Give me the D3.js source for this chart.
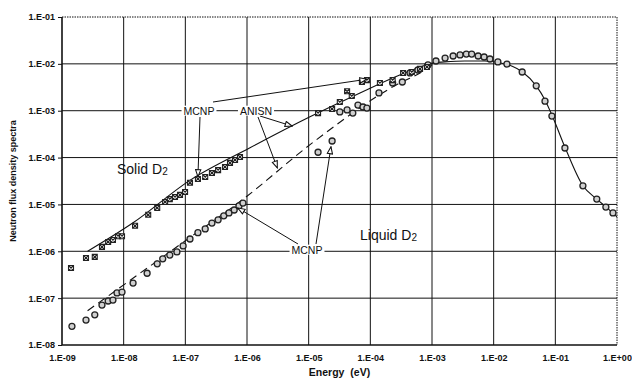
<!DOCTYPE html>
<html>
<head>
<meta charset="utf-8">
<script src="https://cdn.jsdelivr.net/npm/d3@7"></script>
<style>
  body { margin: 0; background: #fff; }
  svg { display: block; }
</style>
</head>
<body>
<script>
// ANISN, solid D2 (solid line)
var anisnSolidE = [2.6e-9, 1.4e-8, 1.2e-7, 1.1e-6, 1.05e-5, 6.8e-5, 3.0e-4, 6.4e-4, 1.05e-3, 1.6e-3, 3.4e-3, 7.2e-3, 1.26e-2, 2.0e-2, 2.9e-2, 4.9e-2, 6.8e-2, 8.8e-2, 0.145, 0.28, 0.47, 0.66, 1.0];
var anisnSolidPhi = [1.0e-6, 4.0e-6, 3.3e-5, 1.6e-4, 7.4e-4, 2.4e-3, 5.8e-3, 8.5e-3, 1.05e-2, 1.1e-2, 1.15e-2, 1.15e-2, 1.05e-2, 8.9e-3, 6.8e-3, 3.4e-3, 1.7e-3, 8.1e-4, 1.6e-4, 2.5e-5, 1.3e-5, 8.9e-6, 5.4e-6];

// ANISN, liquid D2 (dashed line)
var anisnLiquidE = [2.6e-9, 9.9e-8, 8.3e-7, 1.17e-5, 3.0e-4, 6.4e-4, 1.05e-3];
var anisnLiquidPhi = [5.4e-8, 1.66e-6, 1.24e-5, 2.1e-4, 3.9e-3, 6.4e-3, 1.0e-2];

// MCNP, solid D2
var mcnpSolidE = [1.4e-9, 2.45e-9, 3.4e-9, 4.45e-9, 5.6e-9, 6.7e-9, 8.1e-9, 9.4e-9, 1.53e-8, 2.5e-8, 3.5e-8, 4.7e-8, 5.6e-8, 6.8e-8, 8.2e-8, 9.9e-8, 1.19e-7, 1.6e-7, 2.1e-7, 2.7e-7, 3.4e-7, 4.4e-7, 5.3e-7, 6.4e-7, 7.7e-7, 1.42e-5, 2.4e-5, 3.2e-5, 4.2e-5, 5.0e-5, 7.3e-5, 8.8e-5, 1.43e-4, 2.3e-4, 3.4e-4, 4.7e-4, 6.4e-4, 8.3e-4];
var mcnpSolidPhi = [4.4e-7, 7.2e-7, 7.6e-7, 1.24e-6, 1.58e-6, 1.74e-6, 2.1e-6, 2.1e-6, 3.5e-6, 6.0e-6, 8.4e-6, 1.13e-5, 1.3e-5, 1.44e-5, 1.6e-5, 1.84e-5, 2.9e-5, 3.5e-5, 3.85e-5, 4.7e-5, 5.4e-5, 6.3e-5, 7.7e-5, 8.9e-5, 1.03e-4, 8.9e-4, 1.09e-3, 1.53e-3, 2.6e-3, 2.06e-3, 4.1e-3, 4.5e-3, 3.9e-3, 4.5e-3, 6.4e-3, 6.7e-3, 7.8e-3, 8.6e-3];

// MCNP, liquid D2
var mcnpLiquidE = [1.45e-9, 2.45e-9, 3.4e-9, 4.45e-9, 5.6e-9, 6.7e-9, 7.8e-9, 9.4e-9, 1.42e-8, 2.4e-8, 3.5e-8, 4.3e-8, 5.6e-8, 7.3e-8, 9.2e-8, 1.19e-7, 1.6e-7, 2.1e-7, 2.7e-7, 3.4e-7, 4.2e-7, 5.1e-7, 6.2e-7, 7.4e-7, 8.6e-7, 1.42e-5, 2.4e-5, 3.2e-5, 4.2e-5, 5.2e-5, 6.3e-5, 7.6e-5, 8.8e-5, 1.38e-4, 2.3e-4, 3.3e-4, 4.4e-4, 5.9e-4, 8.6e-4, 1.16e-3, 1.63e-3, 2.2e-3, 2.85e-3, 3.6e-3, 4.4e-3, 5.6e-3, 7.0e-3, 8.7e-3, 1.17e-2, 1.64e-2, 2.9e-2, 4.9e-2, 6.8e-2, 8.8e-2, 0.143, 0.28, 0.47, 0.66, 0.86];
var mcnpLiquidPhi = [2.5e-8, 3.4e-8, 4.4e-8, 7.1e-8, 8.7e-8, 9.1e-8, 1.29e-7, 1.35e-7, 2.1e-7, 3.4e-7, 5.4e-7, 6.9e-7, 8.3e-7, 9.7e-7, 1.3e-6, 1.83e-6, 2.5e-6, 3.0e-6, 4.0e-6, 4.7e-6, 5.7e-6, 6.6e-6, 7.6e-6, 9.3e-6, 1.07e-5, 1.3e-4, 2.26e-4, 9.4e-4, 1.04e-3, 8.9e-4, 1.32e-3, 1.2e-3, 1.14e-3, 2.4e-3, 3.9e-3, 4.1e-3, 6.4e-3, 7.4e-3, 9.5e-3, 1.15e-2, 1.33e-2, 1.47e-2, 1.55e-2, 1.62e-2, 1.62e-2, 1.47e-2, 1.4e-2, 1.27e-2, 1.1e-2, 9.9e-3, 6.7e-3, 3.4e-3, 1.6e-3, 7.7e-4, 1.6e-4, 2.5e-5, 1.3e-5, 8.8e-6, 6.6e-6];

var xTicks = [1e-9, 1e-8, 1e-7, 1e-6, 1e-5, 1e-4, 1e-3, 1e-2, 1e-1, 1];
var yTicks = [1e-8, 1e-7, 1e-6, 1e-5, 1e-4, 1e-3, 1e-2, 1e-1];

function zip(a, b) {
  return a.map(function(v, i) { return [v, b[i]]; });
}

// "1.E-05" style labels
function sciLabel(d) {
  var e = Math.round(Math.log10(d));
  return "1.E" + (e < 0 ? "-" : "+") + String(Math.abs(e)).padStart(2, "0");
}

function drawChart() {
  var W = 632, H = 379;
  var margin = { top: 17, right: 15, bottom: 34, left: 62 },
    width = W - margin.left - margin.right,
    height = H - margin.top - margin.bottom;

  var x = d3.scaleLog().domain([1e-9, 1]).range([0, width]);
  var y = d3.scaleLog().domain([1e-8, 1e-1]).range([height, 0]);

  var svg = d3.select("body").append("svg")
    .attr("width", W)
    .attr("height", H);

  var defs = svg.append("defs");
  defs.append("marker")
    .attr("id", "arrow")
    .attr("viewBox", "0 0 10 8")
    .attr("refX", 9)
    .attr("refY", 4)
    .attr("markerWidth", 9)
    .attr("markerHeight", 7)
    .attr("markerUnits", "userSpaceOnUse")
    .attr("orient", "auto")
    .append("path")
    .attr("d", "M1,1 L9,4 L1,7 Z")
    .attr("fill", "#fff")
    .attr("stroke", "#111")
    .attr("stroke-width", 1.2);

  var g = svg.append("g")
    .attr("transform", "translate(" + margin.left + "," + margin.top + ")");

  // gridlines
  g.selectAll("line.vgrid")
    .data(xTicks)
    .enter()
    .append("line")
    .attr("class", "vgrid")
    .attr("x1", function(d) { return x(d); })
    .attr("x2", function(d) { return x(d); })
    .attr("y1", 0)
    .attr("y2", height)
    .attr("stroke", "#111")
    .attr("stroke-width", function(d) { return d === 1e-9 ? 1.6 : 1; })
    .attr("stroke-dasharray", function(d) { return d === 1 ? "1.5,1" : null; });

  g.selectAll("line.hgrid")
    .data(yTicks)
    .enter()
    .append("line")
    .attr("class", "hgrid")
    .attr("x1", 0)
    .attr("x2", width)
    .attr("y1", function(d) { return y(d); })
    .attr("y2", function(d) { return y(d); })
    .attr("stroke", "#111")
    .attr("stroke-width", function(d) { return d === 1e-8 ? 1.4 : 1; })
    .attr("stroke-dasharray", function(d) { return d === 1e-1 ? "1.5,1" : null; });

  // axes (labels + small ticks)
  var xAxis = d3.axisBottom(x).tickValues(xTicks).tickFormat(sciLabel).tickSize(0).tickPadding(10);
  var yAxis = d3.axisLeft(y).tickValues(yTicks).tickFormat(sciLabel).tickSize(4).tickPadding(3);

  var gx = g.append("g")
    .attr("transform", "translate(0," + height + ")")
    .call(xAxis);
  var gy = g.append("g").call(yAxis);

  [gx, gy].forEach(function(a) {
    a.select(".domain").remove();
    a.selectAll("text")
      .attr("font-family", "'Liberation Sans', Arial, sans-serif")
      .attr("font-size", "9px")
      .attr("font-weight", "bold")
      .attr("fill", "#111");
    a.selectAll("line").attr("stroke", "#111");
  });

  // ANISN curves
  var line = d3.line()
    .x(function(d) { return x(d[0]); })
    .y(function(d) { return y(d[1]); })
    .curve(d3.curveMonotoneX);

  g.append("path")
    .datum(zip(anisnLiquidE, anisnLiquidPhi))
    .attr("d", line)
    .attr("fill", "none")
    .attr("stroke", "#111")
    .attr("stroke-width", 1.1)
    .attr("stroke-dasharray", "8,5");

  g.append("path")
    .datum(zip(anisnSolidE, anisnSolidPhi))
    .attr("d", line)
    .attr("fill", "none")
    .attr("stroke", "#111")
    .attr("stroke-width", 1.1);

  // MCNP liquid: circles
  g.selectAll("circle.liq")
    .data(zip(mcnpLiquidE, mcnpLiquidPhi))
    .enter()
    .append("circle")
    .attr("class", "liq")
    .attr("cx", function(d) { return x(d[0]); })
    .attr("cy", function(d) { return y(d[1]); })
    .attr("r", 3)
    .attr("fill", "#d0d0d0")
    .attr("stroke", "#222")
    .attr("stroke-width", 1.3);

  // MCNP solid: crossed squares
  g.selectAll("path.sol")
    .data(zip(mcnpSolidE, mcnpSolidPhi))
    .enter()
    .append("path")
    .attr("class", "sol")
    .attr("transform", function(d) {
      return "translate(" + x(d[0]) + "," + y(d[1]) + ")";
    })
    .attr("d", "M-2.5,-2.5H2.5V2.5H-2.5Z M-2.5,-2.5L2.5,2.5 M2.5,-2.5L-2.5,2.5")
    .attr("fill", "#eee")
    .attr("stroke", "#222")
    .attr("stroke-width", 1.1);

  // annotation arrows (tips point at data positions)
  var arrows = [
    { from: [213 - 62, 102 - 17], to: [8.8e-5, 4.7e-3] },
    { from: [200 - 62, 117 - 17], to: [1.6e-7, 3.9e-5] },
    { from: [260 - 62, 116 - 17], to: [5.4e-6, 4.7e-4] },
    { from: [258 - 62, 117 - 17], to: [3.1e-6, 6.0e-5] },
    { from: [298 - 62, 244 - 17], to: [7.1e-7, 8.4e-6] },
    { from: [316 - 62, 244 - 17], to: [2.3e-5, 1.7e-4] }
  ];

  g.selectAll("line.arrow")
    .data(arrows)
    .enter()
    .append("line")
    .attr("class", "arrow")
    .attr("x1", function(d) { return d.from[0]; })
    .attr("y1", function(d) { return d.from[1]; })
    .attr("x2", function(d) { return x(d.to[0]); })
    .attr("y2", function(d) { return y(d.to[1]); })
    .attr("stroke", "#111")
    .attr("stroke-width", 1)
    .attr("marker-end", "url(#arrow)");

  // small labels with white backing over the gridlines
  var labels = [
    { text: "MCNP", x: 199, y: 111 },
    { text: "ANISN", x: 256, y: 111 },
    { text: "MCNP", x: 307, y: 250 }
  ];
  labels.forEach(function(l) {
    var t = svg.append("text")
      .attr("x", l.x)
      .attr("y", l.y)
      .attr("dy", "0.35em")
      .attr("text-anchor", "middle")
      .attr("font-family", "'Liberation Sans', Arial, sans-serif")
      .attr("font-size", "10.5px")
      .attr("fill", "#111")
      .text(l.text);
    var b = t.node().getBBox();
    svg.insert("rect", function() { return t.node(); })
      .attr("x", b.x - 2)
      .attr("y", b.y + 1)
      .attr("width", b.width + 4)
      .attr("height", b.height - 2)
      .attr("fill", "#fff");
  });

  // region labels
  function regionLabel(txt, px, py) {
    var t = svg.append("text")
      .attr("x", px)
      .attr("y", py)
      .attr("font-family", "'Liberation Sans', Arial, sans-serif")
      .attr("font-size", "14px")
      .attr("fill", "#111");
    t.append("tspan").text(txt);
    t.append("tspan").attr("font-size", "10px").attr("dy", "1").text("2");
  }
  regionLabel("Solid D", 117, 174);
  regionLabel("Liquid D", 360, 240);

  // axis titles
  svg.append("text")
    .attr("x", margin.left + width / 2)
    .attr("y", 376)
    .attr("text-anchor", "middle")
    .attr("font-family", "'Liberation Sans', Arial, sans-serif")
    .attr("font-size", "10.5px")
    .attr("font-weight", "bold")
    .attr("fill", "#111")
    .attr("xml:space", "preserve")
    .text("Energy  (eV)");

  svg.append("text")
    .attr("transform", "translate(16," + (margin.top + height / 2) + ") rotate(-90)")
    .attr("text-anchor", "middle")
    .attr("font-family", "'Liberation Sans', Arial, sans-serif")
    .attr("font-size", "9px")
    .attr("font-weight", "bold")
    .attr("fill", "#111")
    .text("Neutron flux density spectra");
}

window.onload = function() {
  drawChart();
};
</script>
</body>
</html>
